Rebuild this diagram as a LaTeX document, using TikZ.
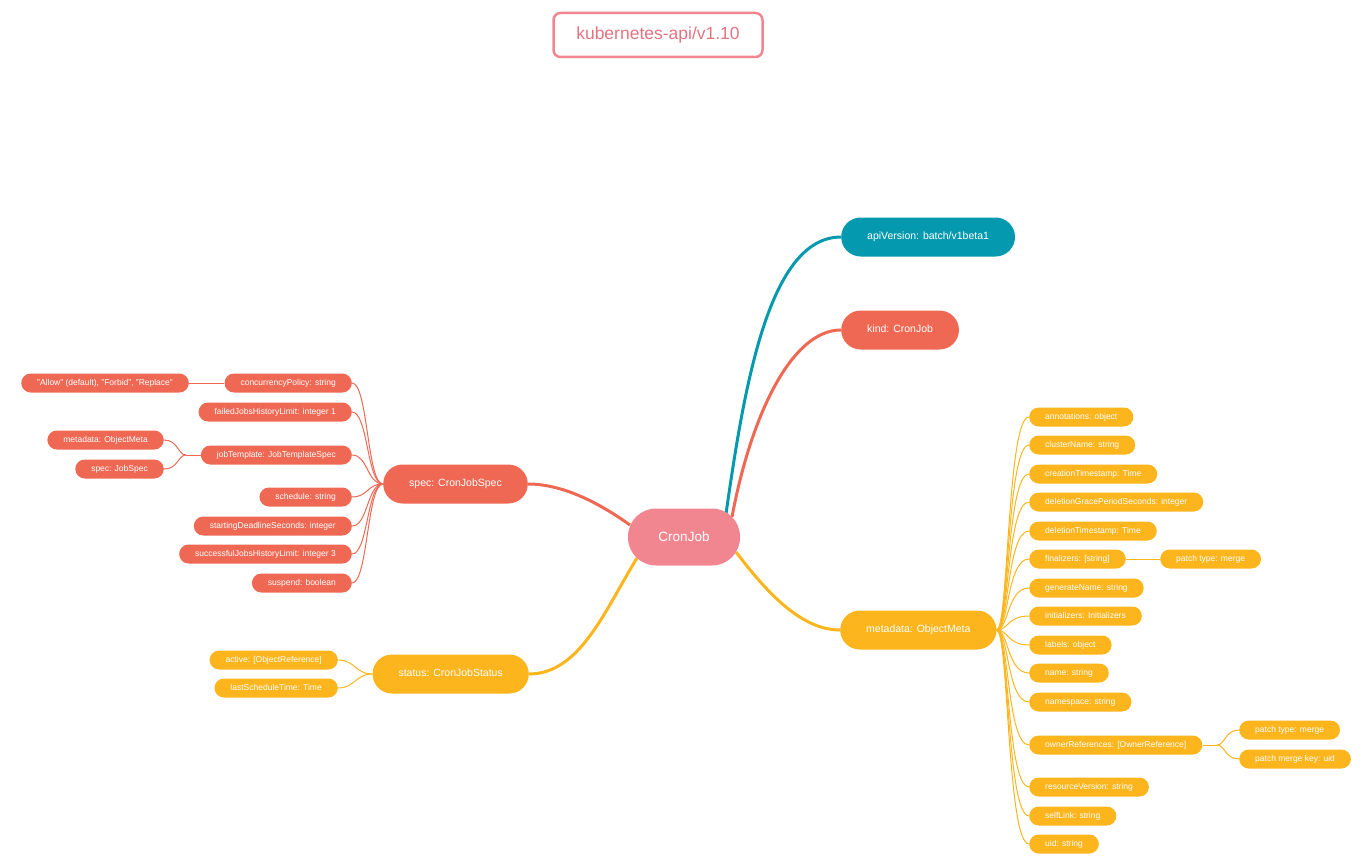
\documentclass[tikz,border=0pt]{standalone}
\usepackage{fontspec}
\setmainfont{Liberation Sans}
\usetikzlibrary{backgrounds}
\definecolor{cjpink}{HTML}{F28690}
\definecolor{cjtitle}{HTML}{E3737F}
\definecolor{cjteal}{HTML}{0499AE}
\definecolor{cjcoral}{HTML}{EF6853}
\definecolor{cjamber}{HTML}{FCB51D}
\begin{document}
\begin{tikzpicture}[x=1pt,y=-1pt,
  leaf/.style={rectangle,rounded corners=9.5pt,minimum height=19pt,inner xsep=16pt,inner ysep=0pt,
    text=white,font=\fontsize{8.5}{10}\selectfont,text height=6.2pt,text depth=1.8pt},
  branch/.style={rectangle,rounded corners=19.5pt,minimum height=39pt,inner xsep=26pt,
    text=white,font=\fontsize{10.5}{12}\selectfont,text height=7.6pt,text depth=2.2pt},
  coralleaf/.style={leaf,fill=cjcoral},
  amberleaf/.style={leaf,fill=cjamber},
  thinline/.style={line width=1pt},
  mainline/.style={line width=3pt}]
\useasboundingbox (0,0) rectangle (1367,864);
\node[draw=cjpink,line width=2.5pt,rounded corners=7pt,minimum width=209pt,minimum height=44pt,
  text=cjtitle,font=\fontsize{17.5}{20}\selectfont] (title) at (658,35) {kubernetes-api/v1.10};
\node[rectangle,rounded corners=28pt,minimum width=112pt,minimum height=57pt,fill=cjpink,
  text=white,font=\fontsize{13.5}{15}\selectfont] (root) at (684,537) {CronJob};
\node[branch,fill=cjteal,anchor=west] (api) at (841,237) {apiVersion: batch/v1beta1};
\node[branch,fill=cjcoral,anchor=west] (kind) at (841,330) {kind: CronJob};
\node[branch,fill=cjamber,anchor=west] (meta) at (840,630) {metadata: ObjectMeta};
\node[branch,fill=cjcoral,anchor=east] (spec) at (528,484) {spec: CronJobSpec};
\node[branch,fill=cjamber,anchor=east] (status) at (529,674) {status: CronJobStatus};
% spec
\node[coralleaf,anchor=east] (conc) at (352,383) {concurrencyPolicy: string};
\node[coralleaf,anchor=east] (allow) at (189,383) {"Allow" (default), "Forbid", "Replace"};
\node[coralleaf,anchor=east] (failed) at (352,412) {failedJobsHistoryLimit: integer 1};
\node[coralleaf,anchor=east] (jobtpl) at (352,455) {jobTemplate: JobTemplateSpec};
\node[coralleaf,anchor=east] (jtmeta) at (164,440) {metadata: ObjectMeta};
\node[coralleaf,anchor=east] (jtspec) at (164,469) {spec: JobSpec};
\node[coralleaf,anchor=east] (sched) at (352,497) {schedule: string};
\node[coralleaf,anchor=east] (startdl) at (352,526) {startingDeadlineSeconds: integer};
\node[coralleaf,anchor=east] (success) at (352,554) {successfulJobsHistoryLimit: integer 3};
\node[coralleaf,anchor=east] (suspend) at (352,583) {suspend: boolean};
\coordinate (jtjoin) at (186,455);
% status
\node[amberleaf,anchor=east] (active) at (338,660) {active: [ObjectReference]};
\node[amberleaf,anchor=east] (lastsched) at (338,688) {lastScheduleTime: Time};
% metadata
\node[amberleaf,anchor=west] (annot) at (1029,417) {annotations: object};
\node[amberleaf,anchor=west] (cluster) at (1029,445) {clusterName: string};
\node[amberleaf,anchor=west] (created) at (1029,474) {creationTimestamp: Time};
\node[amberleaf,anchor=west] (delgrace) at (1029,502) {deletionGracePeriodSeconds: integer};
\node[amberleaf,anchor=west] (deltime) at (1029,531) {deletionTimestamp: Time};
\node[amberleaf,anchor=west] (final) at (1029,559) {finalizers: [string]};
\node[amberleaf,anchor=west] (finalpatch) at (1160,559) {patch type: merge};
\node[amberleaf,anchor=west] (genname) at (1029,588) {generateName: string};
\node[amberleaf,anchor=west] (inits) at (1029,616) {initializers: Initializers};
\node[amberleaf,anchor=west] (labels) at (1029,645) {labels: object};
\node[amberleaf,anchor=west] (name) at (1029,673) {name: string};
\node[amberleaf,anchor=west] (nspace) at (1029,702) {namespace: string};
\node[amberleaf,anchor=west] (owner) at (1029,745) {ownerReferences: [OwnerReference]};
\node[amberleaf,anchor=west] (ownpatch) at (1239,730) {patch type: merge};
\node[amberleaf,anchor=west] (ownkey) at (1239,759) {patch merge key: uid};
\node[amberleaf,anchor=west] (resver) at (1029,787) {resourceVersion: string};
\node[amberleaf,anchor=west] (selflink) at (1029,816) {selfLink: string};
\node[amberleaf,anchor=west] (uid) at (1029,844) {uid: string};
\coordinate (ownjoin) at (1217,745);
\begin{scope}[on background layer]
\draw[mainline,cjteal] ([shift={(42,-23)}]root.center) .. controls +(19,-134) and +(-71,0) .. (api.west);
\draw[mainline,cjcoral] ([shift={(48,-20)}]root.center) .. controls +(18,-97) and +(-51,0) .. (kind.west);
\draw[mainline,cjamber] ([shift={(52,15)}]root.center) .. controls +(29,38) and +(-40,0) .. (meta.west);
\draw[mainline,cjcoral] ([shift={(-54,-12)}]root.center) .. controls +(-35,-25) and +(32,0) .. (spec.east);
\draw[mainline,cjamber] ([shift={(-47,21)}]root.center) .. controls +(-32,52) and +(51,0) .. (status.east);
\foreach \n in {conc,failed,jobtpl,sched,startdl,success,suspend}
  \draw[thinline,cjcoral] (\n.east) .. controls +(16,0) and +(-16,0) .. (spec.west);
\draw[thinline,cjcoral] (allow) -- (conc);
\draw[thinline,cjcoral] (jobtpl.west) -- (jtjoin);
\foreach \n in {jtmeta,jtspec}
  \draw[thinline,cjcoral] (\n.east) .. controls +(14,0) and +(-8,0) .. (jtjoin);
\foreach \n in {active,lastsched}
  \draw[thinline,cjamber] (\n.east) .. controls +(17,0) and +(-17,0) .. (status.west);
\foreach \n in {annot,cluster,created,delgrace,deltime,final,genname,inits,labels,name,nspace,owner,resver,selflink,uid}
  \draw[thinline,cjamber] (meta.east) .. controls +(12,0) and +(-22,0) .. (\n.west);
\draw[thinline,cjamber] (final) -- (finalpatch);
\draw[thinline,cjamber] (owner.east) -- (ownjoin);
\foreach \n in {ownpatch,ownkey}
  \draw[thinline,cjamber] (ownjoin) .. controls +(8,0) and +(-14,0) .. (\n.west);
\end{scope}
\end{tikzpicture}
\end{document}
